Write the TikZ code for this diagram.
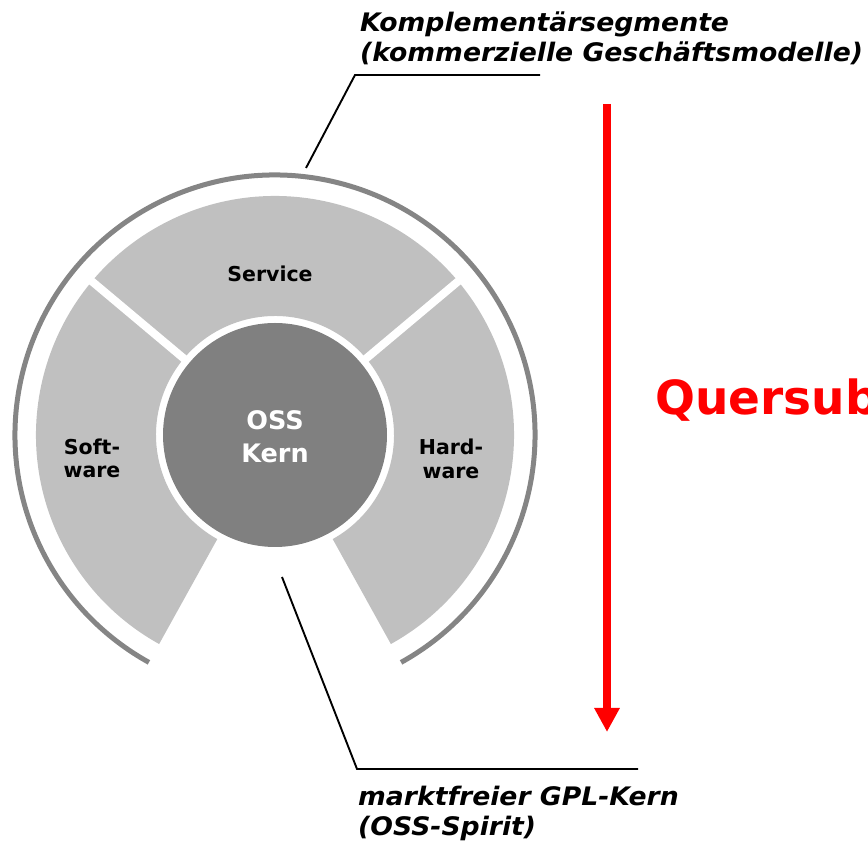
\documentclass[tikz,border=0pt]{standalone}
\usepackage{fontspec}
\setmainfont{DejaVu Sans}
\usetikzlibrary{arrows.meta,calc}
\definecolor{seggray}{HTML}{C0C0C0}
\definecolor{coregray}{HTML}{808080}
\definecolor{arcgray}{HTML}{858585}
\begin{document}
\begin{tikzpicture}[x=1pt,y=1pt,
  seg/.style={fill=seggray},
  sep/.style={white, line width=8pt},
  lbl/.style={inner sep=0pt, anchor=base, font=\fontsize{20.5}{24}\selectfont\bfseries},
  corelbl/.style={inner sep=0pt, anchor=base, text=white, font=\fontsize{25.5}{30}\selectfont\bfseries},
  captxt/.style={inner sep=0pt, anchor=base west, font=\fontsize{25.5}{30}\selectfont\bfseries\itshape\addfontfeatures{FakeStretch=1.045}},
  leader/.style={line width=1.9pt, black},
  redarrow/.style={red, line width=8pt, -{Triangle[width=24pt,length=24pt]}},
  bigred/.style={inner sep=0pt, anchor=base west, text=red, font=\fontsize{47}{56}\selectfont\bfseries}]
\useasboundingbox (0,0) rectangle (868,845);
\coordinate (C) at (275,410);
% ring segments
\fill[seg] ($(C)+(-61:239)$) arc[start angle=-61, end angle=241, radius=239]
  -- ($(C)+(241:119)$) arc[start angle=241, end angle=-61, radius=119] -- cycle;
\draw[sep] ($(C)+(40:114)$) -- ($(C)+(40:246)$);
\draw[sep] ($(C)+(140:114)$) -- ($(C)+(140:246)$);
% outer arc
\draw[arcgray, line width=5pt] ($(C)+(-61:260)$) arc[start angle=-61, end angle=241, radius=260];
% core
\node[circle, fill=coregray, minimum size=224pt, inner sep=0pt] (core) at (C) {};
\node[corelbl] (oss) at (275,415) {OSS};
\node[corelbl] (kern) at (275,382) {Kern};
% segment labels
\node[lbl] (service) at (270,563) {Service};
\node[lbl] (soft1) at (92,390) {Soft-};
\node[lbl] (soft2) at (92,367) {ware};
\node[lbl] (hard1) at (451,390) {Hard-};
\node[lbl] (hard2) at (451,366) {ware};
% captions
\node[captxt] (top1) at (360,813) {Komplementärsegmente};
\node[captxt] (top2) at (360,783) {(kommerzielle Geschäftsmodelle)};
\node[captxt] (bot1) at (358,39) {marktfreier GPL-Kern};
\node[captxt] (bot2) at (358,9) {(OSS-Spirit)};
% leaders
\coordinate (ta) at (306,677);
\coordinate (tb) at (355,770);
\coordinate (tc) at (540,770);
\draw[leader] (ta) -- (tb) -- (tc);
\coordinate (ba) at (282,268);
\coordinate (bb) at (357,76);
\coordinate (bc) at (638,76);
\draw[leader] (ba) -- (bb) -- (bc);
% red arrow
\coordinate (as) at (607,741);
\coordinate (ae) at (607,113);
\draw[redarrow] (as) -- (ae);
\begin{scope}
\clip (0,0) rectangle (868,845);
\node[bigred] (quer) at (655,430) {Quersubventionierung};
\end{scope}
\end{tikzpicture}
\end{document}
